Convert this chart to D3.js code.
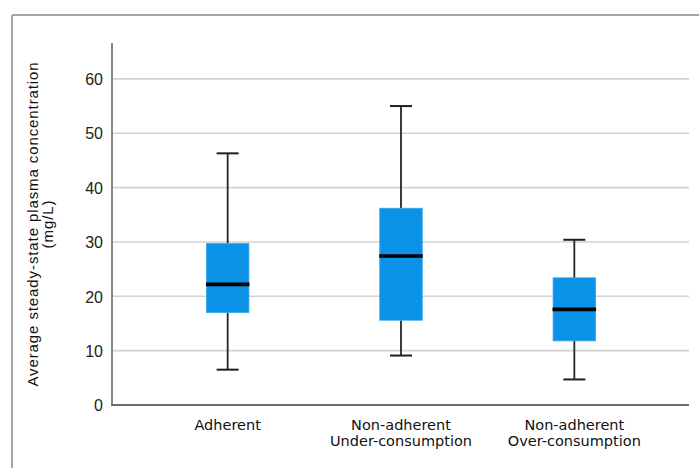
<!DOCTYPE html>
<html>
<head>
<meta charset="utf-8">
<script src="https://cdn.jsdelivr.net/npm/d3@7"></script>
<style>
  html, body { margin: 0; padding: 0; background: #fff; }
  svg { display: block; }
</style>
</head>
<body>
<svg id="chart" width="699" height="468"></svg>
<script>
// Groups shown along the x axis (two text lines each)
const categories = ["Adherent", "Under", "Over"];
const categoryLines = [
  ["Adherent"],
  ["Non-adherent", "Under-consumption"],
  ["Non-adherent", "Over-consumption"]
];
// Five-number summaries per group (mg/L)
const whiskerLow  = [6.5, 9.1, 4.7];
const quartile1   = [17.0, 15.6, 11.8];
const medians     = [22.2, 27.4, 17.6];
const quartile3   = [29.7, 36.2, 23.4];
const whiskerHigh = [46.3, 55.0, 30.4];
const yTicks = [0, 10, 20, 30, 40, 50, 60];
const yTitle = ["Average steady-state plasma concentration", "(mg/L)"];

const svg = d3.select("#chart");

// outer frame
svg.append("line").attr("x1", 12).attr("x2", 12).attr("y1", 15).attr("y2", 468)
  .attr("stroke", "#a6a6a6").attr("stroke-width", 2);
svg.append("line").attr("x1", 12).attr("x2", 699).attr("y1", 15).attr("y2", 15)
  .attr("stroke", "#a6a6a6").attr("stroke-width", 2);

const plotLeft = 112, plotRight = 689, plotTop = 43, plotBottom = 405;

const y = d3.scaleLinear().domain([0, 66.6]).range([plotBottom, plotTop]);
const x = d3.scalePoint().domain(categories).range([141, 661]).padding(0.5);

// gridlines
svg.append("g").selectAll("line").data(yTicks.filter(t => t > 0)).join("line")
  .attr("x1", plotLeft).attr("x2", plotRight)
  .attr("y1", d => y(d)).attr("y2", d => y(d))
  .attr("stroke", "#d2d2d2").attr("stroke-width", 1.6);

// y axis
const yAxis = d3.axisLeft(y).tickValues(yTicks).tickSize(0).tickPadding(9);
const gy = svg.append("g").attr("transform", `translate(${plotLeft},0)`).call(yAxis);
gy.select(".domain").remove();
gy.selectAll("text")
  .attr("font-family", "Liberation Sans, Arial, sans-serif")
  .attr("font-size", 16).attr("fill", "#222").attr("dy", "0.36em");
svg.append("line").attr("x1", plotLeft).attr("x2", plotLeft)
  .attr("y1", plotTop).attr("y2", plotBottom)
  .attr("stroke", "#7a7a7a").attr("stroke-width", 1.8);

// x axis
const xAxis = d3.axisBottom(x).tickSize(0).tickFormat("");
const gx = svg.append("g").attr("transform", `translate(0,${plotBottom})`).call(xAxis);
gx.select(".domain").remove();
svg.append("line").attr("x1", plotLeft - 1).attr("x2", plotRight)
  .attr("y1", plotBottom).attr("y2", plotBottom)
  .attr("stroke", "#6a6a6a").attr("stroke-width", 1.8);

// category labels
categories.forEach((c, i) => {
  const t = svg.append("text")
    .attr("x", x(c)).attr("y", 430)
    .attr("text-anchor", "middle")
    .attr("font-family", "DejaVu Sans, sans-serif")
    .attr("font-size", 14.5).attr("fill", "#111");
  categoryLines[i].forEach((line, j) => {
    t.append("tspan").attr("x", x(c)).attr("dy", j === 0 ? 0 : 15.5).text(line);
  });
});

// y title
const yt = svg.append("text")
  .attr("transform", "translate(38,224) rotate(-90)")
  .attr("text-anchor", "middle")
  .attr("font-family", "Liberation Sans, Arial, sans-serif")
  .attr("font-size", 15).attr("letter-spacing", 0.9).attr("fill", "#111");
yTitle.forEach((line, j) => {
  yt.append("tspan").attr("x", 0).attr("dy", j === 0 ? 0 : 15).text(line);
});

// boxes
const boxW = 42.5, capW = 22;
const g = svg.append("g");
categories.forEach((c, i) => {
  const cx = x(c);
  // whiskers
  g.append("line").attr("x1", cx).attr("x2", cx)
    .attr("y1", y(whiskerHigh[i])).attr("y2", y(quartile3[i]))
    .attr("stroke", "#262626").attr("stroke-width", 1.8);
  g.append("line").attr("x1", cx).attr("x2", cx)
    .attr("y1", y(quartile1[i])).attr("y2", y(whiskerLow[i]))
    .attr("stroke", "#262626").attr("stroke-width", 1.8);
  [whiskerHigh[i], whiskerLow[i]].forEach(v => {
    g.append("line").attr("x1", cx - capW / 2).attr("x2", cx + capW / 2)
      .attr("y1", y(v)).attr("y2", y(v))
      .attr("stroke", "#1e1e1e").attr("stroke-width", 2);
  });
  // box
  g.append("rect")
    .attr("x", cx - boxW / 2).attr("width", boxW)
    .attr("y", y(quartile3[i])).attr("height", y(quartile1[i]) - y(quartile3[i]))
    .attr("fill", "#0a93e6").attr("stroke", "#3aa6ea").attr("stroke-width", 0.8);
  // median
  g.append("line").attr("x1", cx - boxW / 2 - 0.5).attr("x2", cx + boxW / 2 + 0.5)
    .attr("y1", y(medians[i])).attr("y2", y(medians[i]))
    .attr("stroke", "#000").attr("stroke-width", 3.6);
});
</script>
</body>
</html>
